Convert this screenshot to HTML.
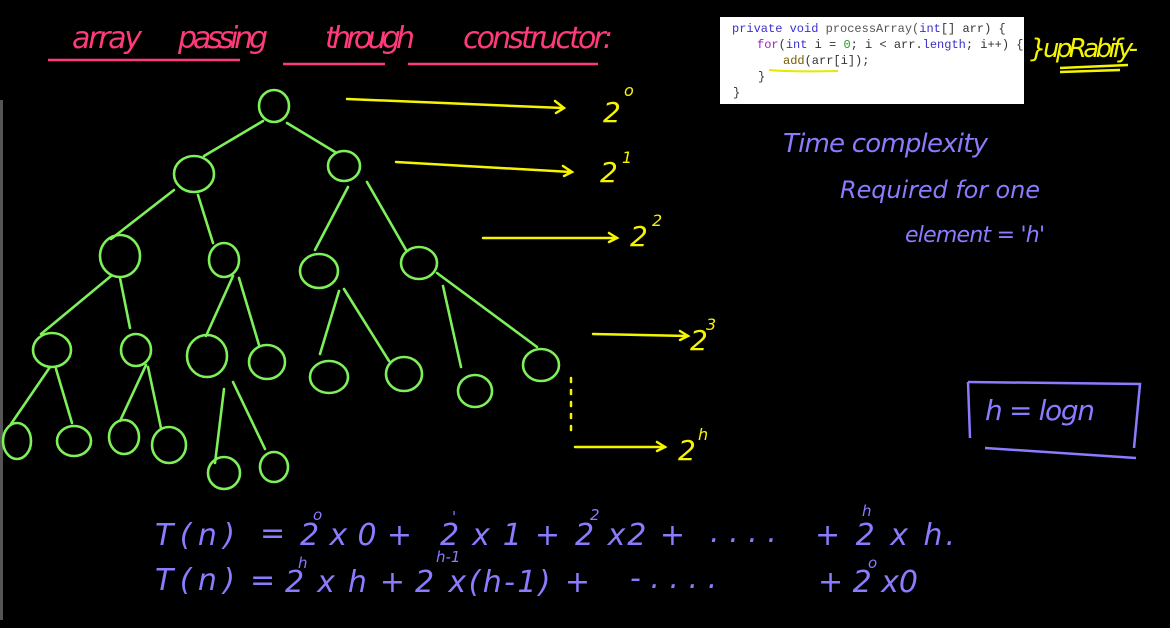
<!DOCTYPE html>
<html><head><meta charset="utf-8"><style>
html,body{margin:0;padding:0;background:#000;width:1170px;height:628px;overflow:hidden}
svg{display:block}
.h{font-family:"DejaVu Sans","Liberation Sans",sans-serif;font-style:italic}
</style></head><body>
<svg width="1170" height="628" viewBox="0 0 1170 628" xmlns="http://www.w3.org/2000/svg">
<rect width="1170" height="628" fill="#000"/>
<rect x="0" y="100" width="3" height="520" fill="#555"/>
<g fill="#ff3a78" class="h" font-size="30">
<text x="72" y="48" textLength="70">array</text>
<text x="178" y="48" textLength="90">passing</text>
<text x="325" y="48" textLength="90">through</text>
<text x="463" y="48" textLength="150">constructor:</text>
</g>
<g stroke="#ff3a78" stroke-width="2.5" fill="none">
<path d="M48 60 L240 60"/><path d="M283 64 L385 64"/><path d="M408 64 L598 64"/>
</g>
<rect x="720" y="17" width="304" height="87" fill="#fff"/>
<g font-family="Liberation Mono,monospace" font-size="12">
<text x="732" y="32"><tspan fill="#3a2fd0">private void</tspan><tspan fill="#555"> processArray(</tspan><tspan fill="#3a2fd0">int</tspan><tspan fill="#333">[] arr) {</tspan></text>
<text x="757" y="48"><tspan fill="#a020c0">for</tspan><tspan fill="#333">(</tspan><tspan fill="#3a2fd0">int</tspan><tspan fill="#333"> i = </tspan><tspan fill="#20a020">0</tspan><tspan fill="#333">; i &lt; arr.</tspan><tspan fill="#3a2fd0">length</tspan><tspan fill="#333">; i++) {</tspan></text>
<text x="783" y="64"><tspan fill="#7a5a00">add</tspan><tspan fill="#333">(arr[i]);</tspan></text>
<text x="758" y="80" fill="#333">}</text>
<text x="733" y="96" fill="#333">}</text>
</g>
<path d="M769 70 Q790 72 838 71" stroke="#e8e800" stroke-width="2" fill="none"/>
<text x="1030" y="57" fill="#f5f500" class="h" font-size="26" textLength="108">}upRabify-</text>
<g stroke="#f5f500" stroke-width="2.5" fill="none"><path d="M1060 68 L1128 65"/><path d="M1060 72 L1120 70"/></g>
<g stroke="#7ef05a" stroke-width="2.6" fill="none" stroke-linecap="round">
<path d="M263 121 L204 156"/><path d="M287 123 L335 152"/>
<path d="M174 190 L111 239"/><path d="M198 195 L213 243"/>
<path d="M348 187 L315 250"/><path d="M367 182 L406 250"/>
<path d="M111 276 L41 334"/><path d="M120 278 L130 328"/>
<path d="M233 276 L206 336"/><path d="M239 278 L259 345"/>
<path d="M339 291 L320 354"/><path d="M344 289 L389 361"/>
<path d="M443 286 L461 367"/><path d="M437 273 L537 347"/>
<path d="M50 367 L11 424"/><path d="M56 369 L72 423"/>
<path d="M146 365 L120 421"/><path d="M148 367 L161 428"/>
<path d="M224 389 L215 463"/><path d="M233 382 L265 449"/>
</g>
<g stroke="#7ef05a" stroke-width="2.6" fill="none">
<ellipse cx="274" cy="106" rx="15" ry="16"/>
<ellipse cx="194" cy="174" rx="20" ry="18"/><ellipse cx="344" cy="166" rx="16" ry="15"/>
<ellipse cx="120" cy="256" rx="20" ry="21"/><ellipse cx="224" cy="260" rx="15" ry="17"/>
<ellipse cx="319" cy="271" rx="19" ry="17"/><ellipse cx="419" cy="263" rx="18" ry="16"/>
<ellipse cx="52" cy="350" rx="19" ry="17"/><ellipse cx="136" cy="350" rx="15" ry="16"/>
<ellipse cx="207" cy="356" rx="20" ry="21"/><ellipse cx="267" cy="362" rx="18" ry="17"/>
<ellipse cx="329" cy="377" rx="19" ry="16"/><ellipse cx="404" cy="374" rx="18" ry="17"/>
<ellipse cx="475" cy="391" rx="17" ry="16"/><ellipse cx="541" cy="365" rx="18" ry="16"/>
<ellipse cx="17" cy="441" rx="14" ry="18"/><ellipse cx="74" cy="441" rx="17" ry="15"/>
<ellipse cx="124" cy="437" rx="15" ry="17"/><ellipse cx="169" cy="445" rx="17" ry="18"/>
<ellipse cx="224" cy="473" rx="16" ry="16"/><ellipse cx="274" cy="467" rx="14" ry="15"/>
</g>
<g stroke="#f5f500" stroke-width="2.5" fill="none" stroke-linecap="round">
<path d="M347 99 L563 108"/><path d="M555 101 L564 108 L556 113"/>
<path d="M396 162 L571 172"/><path d="M563 166 L572 172 L564 176"/>
<path d="M483 238 L617 238"/><path d="M609 233 L617 238 L609 242"/>
<path d="M593 334 L688 336"/><path d="M680 331 L688 336 L680 340"/>
<path d="M571 378 L571 432" stroke-dasharray="4 8"/>
<path d="M575 447 L665 447"/><path d="M657 442 L665 447 L657 451"/>
</g>
<g fill="#f5f500" class="h">
<text x="603" y="122" font-size="28">2</text><text x="624" y="96" font-size="16">o</text>
<text x="600" y="182" font-size="28">2</text><text x="622" y="163" font-size="16">1</text>
<text x="630" y="246" font-size="28">2</text><text x="652" y="226" font-size="16">2</text>
<text x="690" y="350" font-size="28">2</text><text x="706" y="330" font-size="16">3</text>
<text x="678" y="460" font-size="28">2</text><text x="698" y="440" font-size="16">h</text>
</g>
<g fill="#8b7bff" class="h">
<text x="783" y="152" font-size="26" textLength="205">Time complexity</text>
<text x="840" y="198" font-size="24" textLength="200">Required for one</text>
<text x="905" y="242" font-size="22" textLength="140">element = 'h'</text>
<text x="985" y="420" font-size="28" textLength="110">h = logn</text>
</g>
<g stroke="#8b7bff" stroke-width="2.5" fill="none">
<path d="M968 382 L1140 384 L1134 448"/><path d="M968 382 L970 438"/><path d="M985 448 L1136 458"/>
</g>
<g fill="#8b7bff" class="h" font-size="30">
<text x="155" y="545" textLength="80">T(n)</text><text x="260" y="543">=</text>
<text x="300" y="545" textLength="112">2 x 0 +</text><text x="313" y="520" font-size="15">o</text>
<text x="440" y="545" textLength="120">2 x 1 +</text><text x="452" y="522" font-size="15">'</text>
<text x="575" y="545" textLength="110">2 x2 +</text><text x="590" y="520" font-size="15">2</text>
<text x="710" y="542">. . . .</text>
<text x="815" y="545" textLength="140">+ 2 x h.</text><text x="862" y="516" font-size="15">h</text>
<text x="155" y="590" textLength="80">T(n)</text><text x="250" y="590">=</text>
<text x="285" y="592" textLength="120">2 x h +</text><text x="298" y="568" font-size="15">h</text>
<text x="415" y="592" textLength="175">2  x(h-1) +</text><text x="436" y="562" font-size="15">h-1</text>
<text x="630" y="588">-  .  . . .</text>
<text x="818" y="592" textLength="100">+ 2 x0</text><text x="868" y="568" font-size="15">o</text>
</g>
</svg>
</body></html>
